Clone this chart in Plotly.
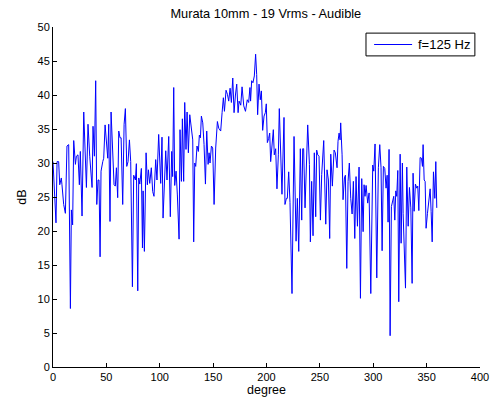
import plotly.graph_objects as go

degree = [0, 1.5, 2.8, 3.8, 5.3, 6.3, 7.8, 8.4, 10, 11.6, 13.1, 14.7, 16.3, 17.2, 18.4, 19.4,
          21, 21.9, 23.4, 24.7, 25.6, 27.2, 28.8, 31.3, 32.8, 34.4, 36.6, 37.5, 38.8, 40, 41,
          42.2, 43.1, 44.1, 45, 46.6, 47.5, 48.8, 50, 51.3, 52.2, 53.4, 54.4, 55.9, 57.2, 58.4,
          59.4, 60.6, 61.6, 62.8, 63.8, 65.3, 66.6, 67.8, 69.1, 70.3, 71.6, 72.8, 74.4, 75.6,
          77.2, 78.1, 79.4, 80.3, 81.3, 82.8, 83.8, 84.4, 85.6, 87.2, 88.4, 89.4, 90.6,
          92.1, 93.4, 94.6, 96.2, 97.4, 99, 100.9, 102.1, 103.1, 104.3, 105.6, 106.8, 108.4,
          109.9, 111.2, 112.1, 113.1, 114, 115.3, 116.5, 118.1, 119, 120.3, 121.2, 122.4,
          123.4, 124.6, 125.6, 126.8, 128.1, 129.3, 130.9, 131.8, 132.8, 133.7, 134.9, 136.2,
          137.1, 138.1, 139, 140.3, 141.5, 142.8, 144, 145.3, 146.2, 147.1, 148.4, 149.6,
          150.9, 152.4, 154, 155.3, 157.1, 158.4, 159.6, 160.6, 162.1, 163.4, 164.6, 165.9,
          167.1, 168.4, 169.6, 170.9, 172.1, 173.4, 174.3, 175.9, 177.1, 178.7, 180.3,
          182, 183.3, 184.5, 185.1, 186.1, 187.3, 188.6, 189.8, 190.8, 191.7, 193, 194.2,
          195.2, 196.4, 197.7, 198.9, 199.8, 200.8, 202, 203, 203.9, 205.2, 206.4, 207.3,
          208.6, 209.8, 211.1, 212, 213.3, 214.5, 216.4, 217.3, 218.6, 219.5, 220.8, 222,
          223.9, 225.8, 227.7, 228.9, 230.2, 231.7, 233, 233.9, 234.8, 236.1, 238.6, 240.2,
          241.1, 242.3, 243.6, 244.8, 246.1, 247, 248, 249.2, 250.5, 251.7, 253.6, 255.5,
          256.7, 258, 259.2, 260.2, 261.7, 263.3, 264.5, 266.1, 267, 268, 268.9, 269.5, 270.8,
          271.7, 273, 273.9, 275.2, 276.4, 277.6, 278.9, 280.2, 281.4, 282.7, 283.9, 285.2,
          286.7, 288, 289.2, 290.5, 291.4, 292.3, 293.3, 294.8, 296.1, 297.7, 299.5, 300.5,
          301.7, 303.3, 304.8, 306.1, 307.3, 308.3, 309.5, 310.8, 312, 313, 313.9, 314.8,
          315.8, 317, 318.3, 319.2, 320.2, 321.1, 322, 323, 323.9, 325.2, 326.1, 327.3, 328,
          329.2, 330.2, 331.4, 332.7, 333.9, 335.2, 336.4, 337.3, 338.3, 339.5, 340.8, 341.7,
          342.7, 343.9, 345.2, 346.1, 346.7, 347.7, 348.6, 349.5, 350.8, 352, 353.3, 354.2,
          355.2, 356.4, 357.7, 358.6, 359.5]

level_db = [30.2, 25.3, 21.2, 30.2, 30.2, 26.8, 27.8, 26.8, 23.9, 22.6, 32.5, 32.7, 8.6, 23.1,
            20.9, 33.3, 29.8, 31, 31.2, 26.8, 31.7, 22.2, 37.5, 26.4, 35.7, 31, 26.4, 35.4, 31,
            42.1, 23.9, 27.5, 27.5, 16.2, 28.8, 30.2, 30.7, 35.6, 32.5, 30.7, 35.7, 21.4, 37.5,
            32.5, 26.8, 26.6, 29.3, 24.9, 34.7, 33.7, 33.7, 23.9, 35.7, 38.0, 29.5, 30.2, 33.4,
            30.2, 11.8, 28.2, 27.5, 29.9, 11.2, 27.8, 26.9, 29.2, 17.5, 25.9, 17, 31.5, 26.8,
            29, 27,
            29.3, 25.8, 25.1, 30.5, 27.5, 34.2, 27.0, 33.8, 21.9, 27.8, 31.8, 27.5, 33.9, 22.1,
            31.7, 28, 41.1, 26.7, 28.8, 25.3, 18.8, 34.9, 27.3, 36.5, 27.3, 38.9, 32, 37.5, 31.5,
            37.1, 35.7, 33.4, 18.4, 30, 29.5, 32.5, 31.7, 34.1, 33.7, 36.9, 35.9, 32.7, 26.9,
            34.7, 29.8, 31.5, 30, 32.5, 32.2, 23.9, 32.2, 36.1, 35.1, 34.7, 37.4, 39.6, 37.6,
            40.7, 40.1, 39.1, 41, 38.9, 42.5, 37.4, 40, 41.6, 37.4, 39.1, 38.5, 41.2, 38.4, 37.6,
            39.3, 38.9, 41.1, 39.1, 42.1, 41.8, 42.8, 46.0, 43.0, 37.1, 41.6, 39.3, 40.6, 34.8,
            36.9, 37.4, 38.7, 33, 33.6, 34.4, 30.2, 32.2, 34.9, 31.2, 32.1, 26.2, 31.2, 38, 31.5,
            25.4, 36.7, 23.9, 24.8, 24.8, 28.7, 24.2, 10.8, 33.9, 18.5, 24.8, 17, 32.1, 21.6,
            32.1, 32.1, 23.4, 35.6, 29.8, 18.4, 27.3, 19.3, 31.5, 22.1, 31.9, 31.2, 31, 21.6,
            28.3, 33.3, 21, 29, 27.5, 18.9, 31.3, 26.6, 31.9, 31.5, 29.3, 33.2, 34.4, 33.4, 35.9,
            31.2,
            24.6, 27.8, 28.2, 14.5, 27.3, 30, 24.8, 22.5, 27.3, 18.9, 28, 20.7, 29.4, 10.1, 27.7,
            19.9, 26.8, 25.1, 26.7, 24.1, 25.6, 10.8, 29.7, 28.8, 32.8, 13.1, 29.3, 32.7, 29.3,
            17.1, 29.5, 29.2, 26.3, 28.2, 21.3, 32, 4.6, 23.6, 24.8, 25.1, 21.6, 25.9, 25.1, 28.9,
            9.6, 31.3, 18.2, 30, 22.6, 17.5, 11.6, 29.4, 20.7, 26.4, 23.4, 12.3, 28.5, 22.9, 26.9,
            26.3, 26.6, 23, 30.8, 30.7, 29.5, 32.7, 27.5, 27.3, 20.4, 22.6, 24.8, 26.2, 22.9,
            18.4, 28.7, 24.8, 30.2, 23.4]

series_name = 'f=125 Hz'
line_color = 'rgb(0,0,255)'

fig = go.Figure()
fig.add_trace(go.Scatter(x=degree, y=level_db, mode='lines', name=series_name,
                         line=dict(color=line_color, width=1), showlegend=False))

axis_style = dict(showline=True, linecolor='black', linewidth=1, ticks='inside', ticklen=4,
                  tickcolor='black', showgrid=False, zeroline=False, mirror=False,
                  automargin=False, tickfont=dict(size=11, color='black'))

# MATLAB-style legend box drawn by hand (tighter than plotly's own legend)
fig.add_shape(type='rect', xref='paper', yref='paper', x0=0.733, x1=0.988, y0=0.915, y1=0.982,
              line=dict(color='black', width=1), fillcolor='white', layer='above')
fig.add_shape(type='line', xref='paper', yref='paper', x0=0.752, x1=0.841, y0=0.9485, y1=0.9485,
              line=dict(color=line_color, width=1), layer='above')
fig.add_annotation(text=series_name, xref='paper', yref='paper', x=0.849, y=0.9485,
                   xanchor='left', yanchor='middle', showarrow=False, font=dict(size=13))

fig.update_layout(
    width=495, height=403,
    margin=dict(l=53, r=15, t=27, b=36),
    paper_bgcolor='white', plot_bgcolor='white',
    font=dict(family='Liberation Sans, Arial, sans-serif', size=11, color='black'),
    title=dict(text='Murata 10mm - 19 Vrms - Audible', x=0.537, xanchor='center',
               y=0.967, yanchor='middle', font=dict(size=12.8), automargin=False),
    xaxis=dict(range=[0, 400], tickvals=[0, 50, 100, 150, 200, 250, 300, 350, 400],
               title=dict(text='degree', standoff=2, font=dict(size=12.5)), **axis_style),
    yaxis=dict(range=[0, 50], tickvals=list(range(0, 51, 5)),
               title=dict(text='dB', standoff=8, font=dict(size=12.5)), **axis_style),
)

# page body has a default 8px margin; drop it so the figure sits at the corner
fig.write_html("out.html", config={'displayModeBar': False},
               post_script="document.body.style.margin='0';")
